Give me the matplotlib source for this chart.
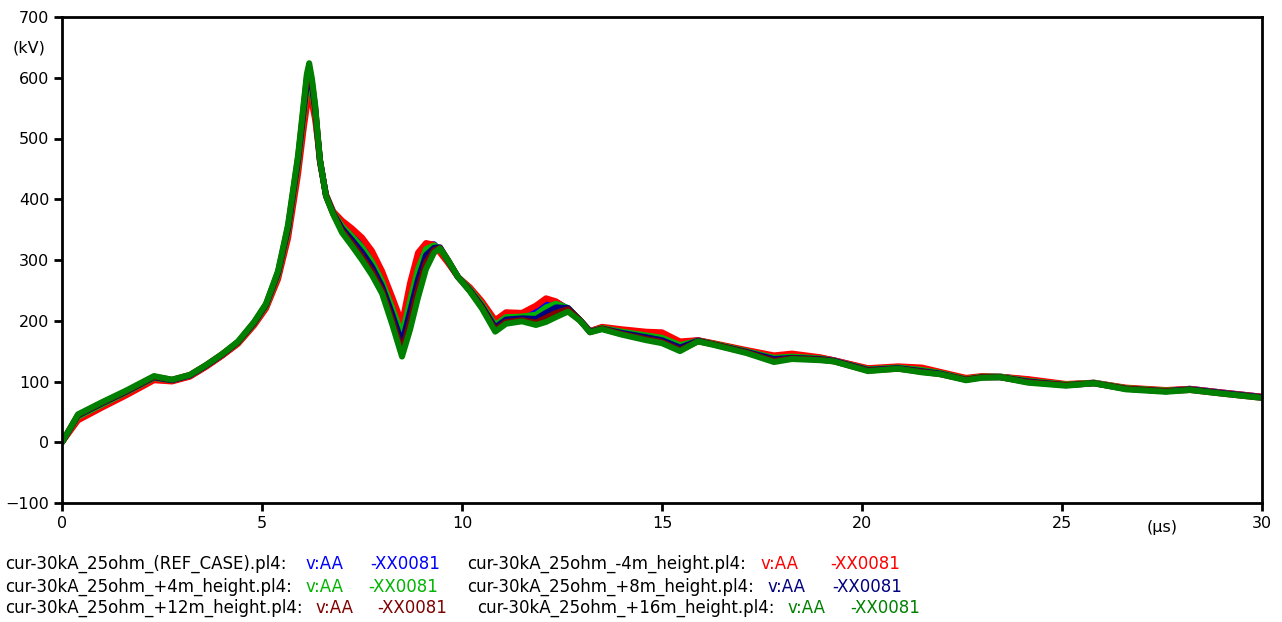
import matplotlib
matplotlib.use("Agg")
import matplotlib.pyplot as plt

# tiempo en microsegundos y tension en kV para cada caso de altura
t_us = [0, 0.4, 1.0, 1.6, 2.3, 2.75, 3.2, 3.6, 4.0, 4.4, 4.8, 5.1, 5.4, 5.65, 5.9,
        6.05, 6.12, 6.18, 6.25, 6.33, 6.4, 6.45, 6.6, 6.78, 7.0, 7.25, 7.5, 7.75,
        8.0, 8.25, 8.5, 8.7, 8.9, 9.1, 9.3, 9.45, 9.65, 9.9, 10.2, 10.5, 10.83,
        11.1, 11.5, 11.85, 12.1, 12.35, 12.65, 12.95, 13.2, 13.5, 14.0, 14.6,
        15.0, 15.45, 15.9, 16.3, 17.1, 17.8, 18.25, 18.95, 19.3, 20.15, 20.9,
        21.5, 21.95, 22.6, 23.0, 23.45, 24.15, 25.1, 25.8, 26.6, 27.6, 28.2,
        29.0, 30.0]

v_ref = [0, 40, 60, 80, 105, 101, 109, 125, 143, 163, 194, 222, 272, 342, 450,
         532, 565, 585, 570, 538, 495, 462, 407, 379, 361, 346, 330, 307,
         275, 232, 188, 248, 300, 325, 326, 316, 297, 272, 253, 229, 197,
         210, 210, 217, 230, 231, 220, 201, 183, 189, 184, 179,
         178, 164, 168, 162, 151, 141, 143, 139, 135, 121, 124,
         121, 115, 105, 108, 108, 103, 95, 98, 89, 85, 88,
         82, 75]

v_m4 = [0, 36, 57, 77, 102, 100, 108, 124, 142, 162, 192, 220, 268, 335, 440,
        520, 552, 570, 558, 530, 492, 460, 408, 380, 365, 352, 337, 315,
        282, 240, 196, 262, 312, 328, 325, 312, 295, 272, 255, 232, 201,
        214, 213, 225, 237, 232, 218, 201, 183, 190, 186, 182,
        181, 166, 168, 163, 152, 143, 146, 140, 135, 122, 125,
        123, 116, 106, 109, 108, 104, 96, 98, 90, 86, 88,
        82, 75]

v_p4 = [0, 42, 62, 82, 106, 102, 110, 126, 144, 164, 195, 224, 275, 347, 457,
        542, 578, 597, 578, 544, 497, 463, 406, 378, 356, 339, 321, 297,
        265, 222, 177, 232, 285, 318, 324, 319, 298, 272, 252, 227, 193,
        206, 207, 210, 222, 228, 221, 201, 182, 188, 182, 176,
        172, 160, 167, 162, 150, 139, 141, 138, 134, 120, 123,
        119, 114, 104, 108, 108, 101, 95, 98, 89, 85, 87,
        81, 74]

v_p8 = [0, 44, 64, 83, 107, 102, 110, 126, 144, 165, 196, 226, 278, 351, 463,
        550, 590, 607, 585, 548, 498, 464, 406, 377, 352, 333, 313, 289,
        257, 212, 163, 215, 268, 308, 320, 321, 299, 272, 250, 224, 189,
        202, 204, 203, 213, 222, 221, 201, 182, 187, 180, 173,
        168, 156, 167, 161, 149, 137, 139, 137, 134, 119, 122,
        117, 113, 103, 107, 107, 100, 94, 97, 88, 84, 87,
        81, 74]

v_p12 = [0, 45, 65, 84, 108, 103, 111, 127, 145, 165, 197, 227, 280, 355, 468,
         557, 600, 616, 592, 552, 500, 465, 405, 376, 348, 327, 305, 281,
         250, 202, 149, 198, 252, 296, 316, 320, 300, 272, 249, 222, 185,
         198, 201, 197, 205, 213, 219, 201, 181, 187, 178, 170,
         165, 152, 166, 161, 148, 134, 138, 136, 133, 118, 121,
         116, 112, 103, 107, 107, 99, 94, 97, 88, 84, 86,
         80, 73]

v_p16 = [0, 46, 66, 85, 109, 103, 111, 127, 145, 166, 198, 228, 282, 358, 472,
         563, 606, 624, 598, 555, 500, 465, 405, 375, 345, 323, 300, 275,
         245, 195, 141, 185, 238, 285, 312, 319, 300, 272, 248, 220, 182,
         195, 199, 193, 198, 206, 215, 200, 181, 186, 177, 168,
         163, 150, 166, 160, 147, 132, 137, 135, 133, 117, 121,
         115, 112, 102, 106, 107, 98, 93, 97, 87, 83, 86,
         80, 73]

archivos = ["cur-30kA_25ohm_(REF_CASE).pl4:", "cur-30kA_25ohm_-4m_height.pl4:",
            "cur-30kA_25ohm_+4m_height.pl4:", "cur-30kA_25ohm_+8m_height.pl4:",
            "cur-30kA_25ohm_+12m_height.pl4:", "cur-30kA_25ohm_+16m_height.pl4:"]
series = [v_ref, v_m4, v_p4, v_p8, v_p12, v_p16]
colores = ["#0000ff", "#ff0000", "#00b400", "#000080", "#800000", "#008000"]

x_ticks = [0, 5, 10, 15, 20, 25, 30]
y_ticks = [-100, 0, 100, 200, 300, 400, 500, 600, 700]

FUENTE = "DejaVu Sans"
plt.rcParams["font.family"] = FUENTE

fig = plt.figure(figsize=(12.82, 6.22), dpi=100)
ax = fig.add_axes([62 / 1282, 1 - 503 / 622, 1200 / 1282, 486 / 622])

for v, c in zip(series, colores):
    ax.plot(t_us, v, color=c, lw=4.3, solid_joinstyle="round", solid_capstyle="round")

ax.set_xlim(0, 30)
ax.set_ylim(-100, 700)
ax.set_xticks(x_ticks)
ax.set_yticks(y_ticks)
ax.tick_params(direction="out", length=6, width=2, labelsize=11.5, colors="black", pad=3)
for s in ax.spines.values():
    s.set_linewidth(2)

# etiquetas de unidades
ax.text(27.5, -0.035, "(µs)", transform=ax.get_xaxis_transform(), ha="center", va="top", fontsize=11.5)
fig.text(13 / 1282, 1 - 48 / 622, "(kV)", ha="left", va="center", fontsize=11.5)

# leyenda en texto, dos columnas
filas_y = [564, 587, 608]
col_x = [(5, 305, 370), (467, 760, 830),
         (5, 305, 368), (467, 768, 832),
         (5, 315, 377), (477, 787, 850)]
for i, (nombre, c) in enumerate(zip(archivos, colores)):
    x0, x1, x2 = col_x[i]
    y = 1 - filas_y[i // 2] / 622
    fig.text(x0 / 1282, y, nombre, ha="left", va="center", fontsize=12)
    fig.text(x1 / 1282, y, "v:AA", ha="left", va="center", fontsize=12, color=c)
    fig.text(x2 / 1282, y, "-XX0081", ha="left", va="center", fontsize=12, color=c)

fig.savefig("out.png", dpi=100)
